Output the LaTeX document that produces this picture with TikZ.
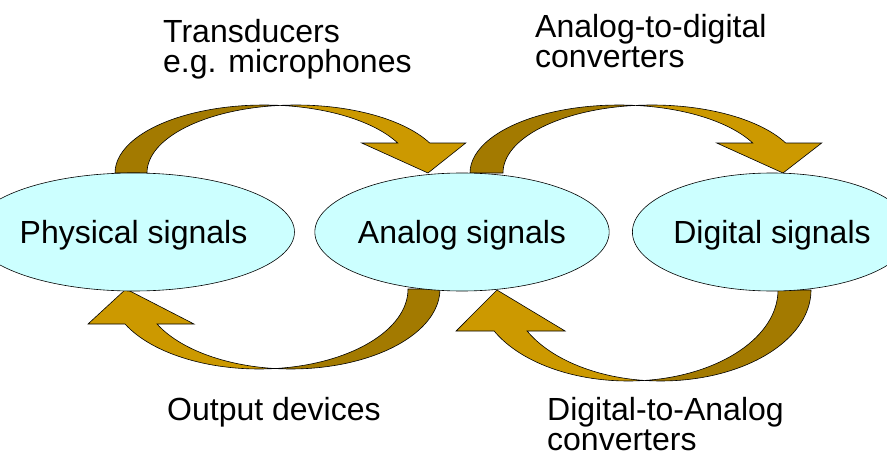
\documentclass[tikz,border=0pt]{standalone}
\usepackage{fontspec}
\setmainfont{Liberation Sans}
\usetikzlibrary{shapes.geometric}
\definecolor{ovalfill}{HTML}{CCFFFF}
\definecolor{arrowlight}{HTML}{CC9900}
\definecolor{arrowdark}{HTML}{A37A00}
% #1,#2 origin (outer foot), #3 rotation, #4 wR, #5 h, #6 th, #7 ah, #8 dh, #9 tip x
\newcommand\curvedarrowshape[9]{%
 \begin{scope}[shift={(#1,#2)},rotate=#3]
  \pgfmathsetmacro\tA{acos((#6/2)/#4)}
  \pgfmathsetmacro\tB{180-\tA}
  \pgfmathsetmacro\tI{asin(#7/#5)}
  \pgfmathsetmacro\xv{#4+#4*cos(\tI)}
  \pgfmathsetmacro\xvii{\xv+#6}
  \pgfmathsetmacro\xiv{\xv-#8}
  \pgfmathsetmacro\xviii{\xvii+#8}
  \filldraw[arrowback] (0,0) arc[start angle=180,end angle=\tA,x radius=#4,y radius=#5]
     arc[start angle=\tB,end angle=180,x radius=#4,y radius=#5] -- cycle;
  \filldraw[arrowfront] (\xv,#7) arc[start angle=\tI,end angle=\tA,x radius=#4,y radius=#5]
     arc[start angle=\tB,end angle=\tI,x radius=#4,y radius=#5]
     -- (\xviii,#7) -- (#9,0) -- (\xiv,#7) -- cycle;
 \end{scope}}
\begin{document}
\begin{tikzpicture}[x=1pt,y=1pt,
  arrowback/.style={fill=arrowdark,draw=black,line width=0.6pt,line join=miter},
  arrowfront/.style={fill=arrowlight,draw=black,line width=0.6pt,line join=miter},
  oval/.style={ellipse,draw=black,fill=ovalfill,line width=0.6pt,inner sep=0pt,
     minimum width=249pt,minimum height=118pt,font=\fontsize{32}{36}\selectfont,
     text height=26pt,text depth=4pt},
  lbl/.style={anchor=base west,align=left,inner sep=0pt,font=\fontsize{32}{30}\selectfont}]
\useasboundingbox (0,0) rectangle (887,459);
% arrows
\curvedarrowshape{115}{286}{0}{149}{68}{32}{30}{36}{313}
\curvedarrowshape{470}{286}{0}{149}{68}{33}{30}{36}{313}
\curvedarrowshape{440}{170}{180}{149}{80}{32}{35}{37}{314}
\curvedarrowshape{811}{169}{180}{150}{91}{33}{41}{38}{314}
% ovals
\node[oval] (phys) at (133.5,227) {Physical signals};
\node[oval] (anal) at (462,227) {Analog signals};
\node[oval,minimum width=248pt] (digi) at (772,227) {Digital signals};
% labels (base anchor = baseline of last line)
\node[lbl] (trans) at (163,386) {Transducers\\e.g. microphones};
\node[lbl] (adc) at (535,391) {Analog-to-digital\\converters};
\node[lbl] (outd) at (167,39) {Output devices};
\node[lbl] (dac) at (547,9) {Digital-to-Analog\\converters};
\end{tikzpicture}
\end{document}
